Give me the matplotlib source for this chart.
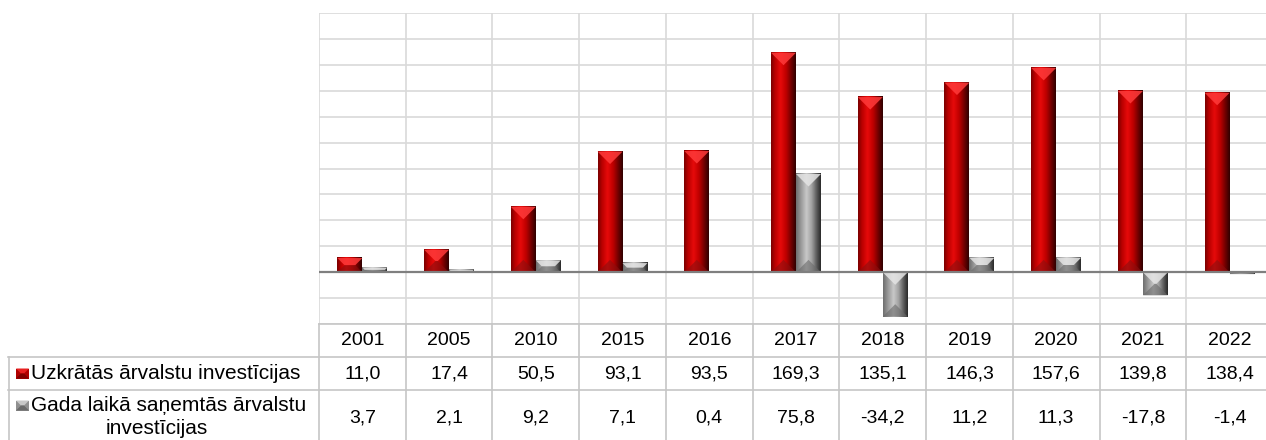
import numpy as np
import matplotlib
matplotlib.use("Agg")
import matplotlib.pyplot as plt
from matplotlib.patches import Polygon, Rectangle
from matplotlib.lines import Line2D
from matplotlib.colors import LinearSegmentedColormap
from matplotlib.transforms import blended_transform_factory

plt.rcParams['font.family'] = ['Liberation Sans', 'DejaVu Sans']

# ---- data ----
years = ['2001', '2005', '2010', '2015', '2016', '2017', '2018', '2019', '2020', '2021', '2022']
accumulated = [11.0, 17.4, 50.5, 93.1, 93.5, 169.3, 135.1, 146.3, 157.6, 139.8, 138.4]
received = [3.7, 2.1, 9.2, 7.1, 0.4, 75.8, -34.2, 11.2, 11.3, -17.8, -1.4]
series_names = ['Uzkrātās ārvalstu investīcijas', 'Gada laikā saņemtās ārvalstu\ninvestīcijas']

def fmt(v):
    return f"{v:.1f}".replace('.', ',')

W, H = 1266, 440
fig = plt.figure(figsize=(W / 100, H / 100), dpi=100)
fig.patch.set_facecolor('white')

# axes pixel geometry
ax_l, ax_r, ax_t, ax_b = 319, 1273, 12.9, 324.2
ax = fig.add_axes([ax_l / W, 1 - ax_b / H, (ax_r - ax_l) / W, (ax_b - ax_t) / H])
ax.set_xlim(-0.5, len(years) - 0.5)
ax.set_ylim(-40, 200)
ax.set_yticks(np.arange(-40, 201, 20))
ax.set_xticks(np.arange(-0.5, len(years), 1))
ax.grid(True, color='#d9d9d9', lw=1.2)
ax.set_axisbelow(True)
ax.tick_params(length=0, labelbottom=False, labelleft=False)
for s in ax.spines.values():
    s.set_visible(False)

px_x = (ax_r - ax_l) / len(years)       # px per category unit
px_y = (ax_b - ax_t) / 240.0            # px per value unit

bw = 0.288
x = np.arange(len(years))

red_cmap = LinearSegmentedColormap.from_list('r', [
    (0.0, '#7a0000'), (0.15, '#b80000'), (0.38, '#e60a0a'),
    (0.6, '#c00000'), (0.82, '#700000'), (1.0, '#300000')])
gray_cmap = LinearSegmentedColormap.from_list('g', [
    (0.0, '#6e6e6e'), (0.18, '#969696'), (0.42, '#c8c8c8'),
    (0.62, '#a4a4a4'), (0.84, '#5a5a5a'), (1.0, '#2a2a2a')])

grad = np.linspace(0, 1, 64).reshape(1, -1)

def bevel_bars(bars, cmap, topc, botc):
    for b in bars:
        x0 = b.get_x(); w = b.get_width()
        y0 = min(b.get_y(), b.get_y() + b.get_height())
        h = abs(b.get_height())
        if h <= 0:
            continue
        b.set_visible(False)
        ax.imshow(grad, cmap=cmap, extent=[x0, x0 + w, y0, y0 + h],
                  aspect='auto', interpolation='bilinear', zorder=3)
        wpx = w * px_x; hpx = h * px_y
        d = min(wpx / 2.0, hpx / 2.0, 12.5)
        dx = d / px_x; dy = d / px_y
        y1 = y0 + h; x1 = x0 + w
        ax.add_patch(Polygon([(x0, y1), (x1, y1), (x1 - dx, y1 - dy), (x0 + dx, y1 - dy)],
                             closed=True, facecolor=topc, edgecolor='none', alpha=0.85, zorder=4))
        ax.add_patch(Polygon([(x0, y0), (x1, y0), (x1 - dx, y0 + dy), (x0 + dx, y0 + dy)],
                             closed=True, facecolor=botc, edgecolor='none', alpha=0.6, zorder=4))

bars_r = ax.bar(x - bw / 2, accumulated, width=bw, color='#c00000', zorder=3)
bars_g = ax.bar(x + bw / 2, received, width=bw, color='#a0a0a0', zorder=3)
bevel_bars(bars_r, red_cmap, '#ff3a3a', '#8a1010')
bevel_bars(bars_g, gray_cmap, '#e4e4e4', '#6a6a6a')
ax.set_xlim(-0.5, len(years) - 0.5)
ax.set_ylim(-40, 200)

ax.axhline(0, color='#7f7f7f', lw=1.6, zorder=5)

# ---- data table ----
tcol = '#c6c6c6'
fy = lambda ypx: 1 - ypx / H
fx = lambda xpx: xpx / W
bt = blended_transform_factory(ax.transData, fig.transFigure)

row_year = (324.2, 356.7)
row1 = (356.7, 390.0)
row2 = (390.0, 445.0)

# horizontal lines
for ypx in [row1[0], row2[0]]:
    fig.add_artist(Line2D([fx(8), fx(ax_r + 5)], [fy(ypx), fy(ypx)], color=tcol, lw=1.2))
fig.add_artist(Line2D([fx(ax_l), fx(ax_r + 5)], [fy(row_year[0]), fy(row_year[0])], color=tcol, lw=1.2))
# left border of label column
fig.add_artist(Line2D([fx(8.5), fx(8.5)], [fy(row1[0]), fy(H + 5)], color=tcol, lw=1.2))
# vertical cell lines at category boundaries
for bnd in np.arange(-0.5, len(years), 1):
    fig.add_artist(Line2D([bnd, bnd], [fy(row_year[0]), fy(H + 5)], color=tcol, lw=1.2,
                          transform=bt))

fs = 14
fs_lab = 15
for i, yr in enumerate(years):
    fig.text(i, fy(340.5), yr, transform=bt, ha='center', va='center', fontsize=fs, color='black')
    fig.text(i, fy(373.5), fmt(accumulated[i]), transform=bt, ha='center', va='center', fontsize=fs)
    fig.text(i, fy(418), fmt(received[i]), transform=bt, ha='center', va='center', fontsize=fs)

# legend keys
def key(x0px, y0px, size_w, size_h, base, top, bot):
    fig.add_artist(Rectangle((fx(x0px), fy(y0px + size_h)), size_w / W, size_h / H,
                             facecolor=base, edgecolor='none'))
    d = size_h / 2
    xs = [x0px, x0px + size_w, x0px + size_w - d, x0px + d]
    fig.add_artist(Polygon([(fx(xs[0]), fy(y0px)), (fx(xs[1]), fy(y0px)),
                            (fx(xs[2]), fy(y0px + d)), (fx(xs[3]), fy(y0px + d))],
                           closed=True, facecolor=top, edgecolor='none'))
    fig.add_artist(Polygon([(fx(xs[0]), fy(y0px + size_h)), (fx(xs[1]), fy(y0px + size_h)),
                            (fx(xs[2]), fy(y0px + d)), (fx(xs[3]), fy(y0px + d))],
                           closed=True, facecolor=bot, edgecolor='none'))

key(16, 368.5, 13, 10, '#b00000', '#e82020', '#800000')
key(16, 400.5, 13, 10, '#909090', '#c8c8c8', '#6a6a6a')

name1 = series_names[0]
name2a, name2b = series_names[1].split('\n')
fig.text(fx(31), fy(373.5), name1, ha='left', va='center', fontsize=fs_lab)
fig.text(fx(31), fy(405.5), name2a, ha='left', va='center', fontsize=fs_lab)
fig.text(fx(157), fy(428.5), name2b, ha='center', va='center', fontsize=fs_lab)

fig.savefig('out.png', dpi=100, facecolor='white')
